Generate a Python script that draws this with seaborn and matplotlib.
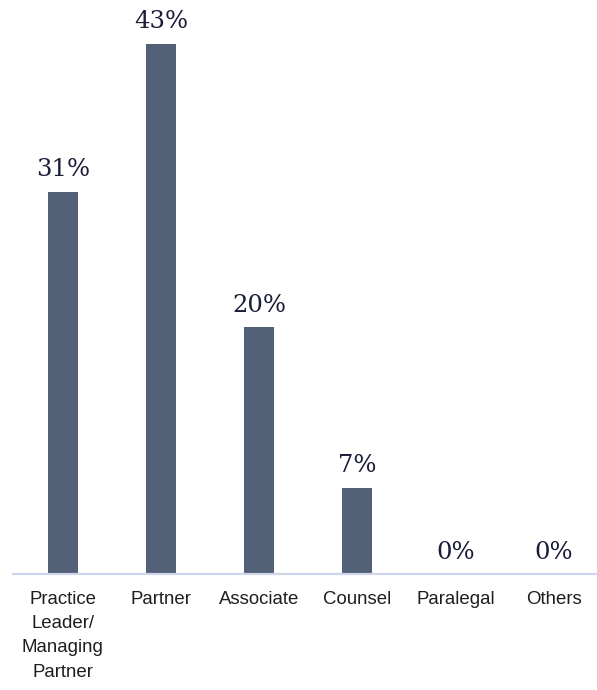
import matplotlib
matplotlib.use("Agg")
import matplotlib.pyplot as plt
import seaborn as sns
import pandas as pd

categories = ["Practice\nLeader/\nManaging\nPartner", "Partner", "Associate",
              "Counsel", "Paralegal", "Others"]
shares = [31, 43, 20, 7, 0, 0]

df = pd.DataFrame({"role": categories, "share": shares})

sns.set_style("white")
fig = plt.figure(figsize=(5.97, 6.90), dpi=100)
ax = fig.add_axes([13 / 597, 116 / 690, 584 / 597, 574 / 690])

sns.barplot(data=df, x="role", y="share", color="#516076", width=0.305,
            saturation=1, linewidth=0, ax=ax)

for i, v in enumerate(shares):
    ax.annotate(f"{v}%", (i, v), xytext=(0, 11), textcoords="offset points",
                ha="center", va="baseline", fontsize=17.5, color="#1b1d38",
                family="DejaVu Serif")

ax.set_xlim(-0.508, 5.44)
ax.set_ylim(0, 46.55)
ax.set_xlabel("")
ax.set_ylabel("")
ax.set_yticks([])
for s in ["top", "right", "left"]:
    ax.spines[s].set_visible(False)
ax.spines["bottom"].set_color("#d0d4ec")
ax.spines["bottom"].set_linewidth(1.6)
ax.tick_params(axis="x", length=0, pad=12)
for lbl in ax.get_xticklabels():
    lbl.set_fontfamily("Liberation Sans")
    lbl.set_fontsize(13.4)
    lbl.set_color("#1e1e1e")
    lbl.set_linespacing(1.56)

fig.savefig("out.png", dpi=100)
